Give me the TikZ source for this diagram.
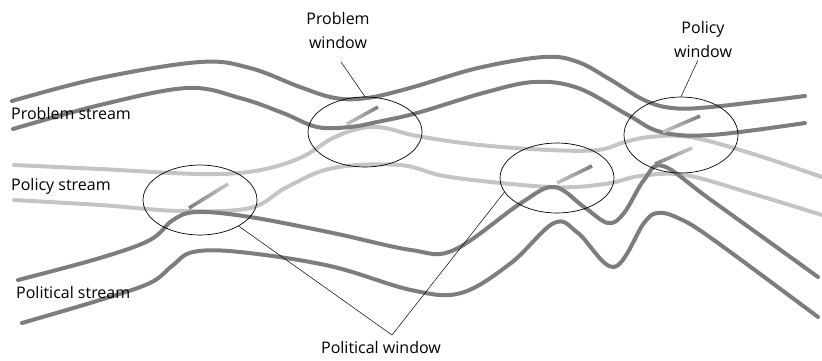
\documentclass[tikz,border=0pt]{standalone}
\usepackage{fontspec}
\setmainfont{Open Sans}
\usetikzlibrary{shapes.geometric, calc}
\definecolor{streamdark}{RGB}{125,125,125}
\definecolor{streamlight}{RGB}{196,196,196}
\tikzset{
  stream/.style={line width=4pt, line cap=round},
  darkstream/.style={stream, streamdark},
  lightstream/.style={stream, streamlight},
  window/.style={draw, ellipse, line width=0.7pt, minimum width=114pt, minimum height=70pt, inner sep=0pt},
  leader/.style={line width=0.5pt},
  lbl/.style={font=\fontsize{16}{24}\selectfont, inner sep=1pt, align=center}
}
\begin{document}
\begin{tikzpicture}[x=1pt, y=-1pt]
    \useasboundingbox (0,0) rectangle (822,360);

    % --- Policy stream (light) ---
    \draw[lightstream] plot[smooth, tension=0.6] coordinates {(14,165) (100,169) (200,174) (255,171) (300,158) (333,138) (362,128) (385,128) (417,136) (480,145) (550,150) (598,150) (625,142) (650,137) (690,137) (750,153) (822,177)};
    \draw[lightstream] plot[smooth, tension=0.6] coordinates {(14,200) (100,205) (180,211) (250,208) (287,187) (333,168) (400,165) (450,177) (550,187) (605,184) (640,176) (685,175) (750,193) (822,215)};

    % --- Problem stream (dark) ---
    \draw[darkstream] plot[smooth, tension=0.6] coordinates {(12,101) (100,78) (200,62) (250,68) (300,87) (335,98) (367,98) (410,88) (478,68) (544,57) (578,62) (611,80) (644,100) (672,108) (711,107) (805,96)};
    \draw[darkstream] plot[smooth, tension=0.6] coordinates {(13,129) (100,105) (187,88) (240,98) (283,113) (317,127) (350,127) (377,122) (417,113) (483,93) (534,82) (578,88) (628,115) (661,132) (711,135) (805,123)};

    % --- Political stream (dark) ---
    \draw[darkstream] plot[smooth, tension=0.6] coordinates {(18,280) (100,258) (150,240) (173,220) (197,212) (250,217) (333,233) (411,250) (454,250) (521,203) (554,187) (584,207) (608,223) (624,213) (644,180) (663,166) (711,200) (818,277)};
    \draw[darkstream] plot[smooth, tension=0.6] coordinates {(22,323) (100,300) (150,283) (172,266) (193,252) (240,252) (330,266) (411,290) (461,293) (511,263) (554,223) (578,233) (614,267) (644,223) (658,213) (678,218) (711,238) (818,317)};

    % --- Joining stubs (shaded from one stream to the other) ---
    \foreach \ax/\ay/\bx/\by/\ca/\cb in {347/124/378/107/streamlight/streamdark,
                                         189/208/228/184/streamdark/streamlight,
                                         557/183/592/166/streamlight/streamdark,
                                         663/132/700/116/streamlight/streamdark,
                                         655/164/692/148/streamdark/streamlight}{
      \foreach \i in {1,...,10}{
        \pgfmathtruncatemacro\mixpct{100-\i*10+5}
        \draw[line width=3.6pt, \ca!\mixpct!\cb]
          ($(\ax,\ay)!{(\i-1)/10}!(\bx,\by)$) -- ($(\ax,\ay)!{\i/10}!(\bx,\by)$);
      }
    }

    % --- Windows ---
    \node[window] (probwin) at (365,132) {};
    \node[window] (polwinl) at (200,200) {};
    \node[window] (polwinm) at (557,178) {};
    \node[window, minimum height=76pt] (policywin) at (681,135) {};

    % --- Labels ---
    \node[lbl, anchor=west] (problbl) at (10,113) {Problem stream};
    \node[lbl, anchor=west] (policylbl) at (10,186) {Policy stream};
    \node[lbl, anchor=west] (politlbl) at (15,292) {Political stream};

    \node[lbl] (probwinlbl) at (338,30) {Problem\\window};
    \node[lbl] (policywinlbl) at (703,39) {Policy\\window};
    \node[lbl] (polwinlbl) at (381,347) {Political window};

    % --- Leader lines ---
    \coordinate (probtip) at (341,62);
    \coordinate (policytip) at (698,60);
    \coordinate (poltip) at (392,335);
    \draw[leader] (probtip) -- (probwin.north);
    \draw[leader] (policytip) -- (policywin.north);
    \draw[leader] (polwinl.-34) -- (poltip) -- (polwinm.195);

\end{tikzpicture}
\end{document}
